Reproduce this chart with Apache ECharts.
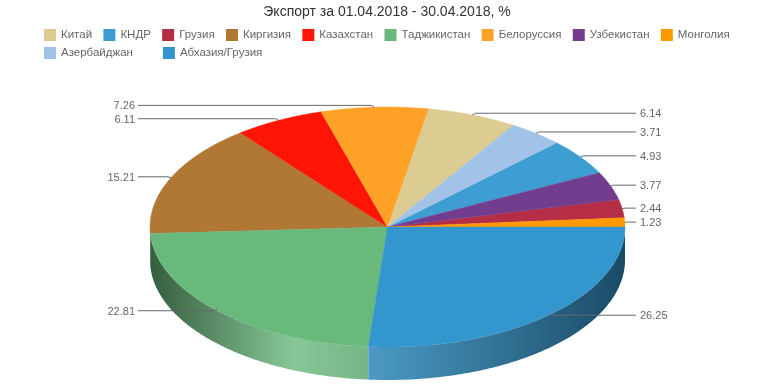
<!DOCTYPE html>
<html>
<head>
<meta charset="utf-8">
<style>
    html, body { margin: 0; padding: 0; background: #fff; }
    #chart { width: 774px; height: 387px; }
</style>
<script src="https://cdn.jsdelivr.net/npm/echarts@6/dist/echarts.min.js"></script>
</head>
<body>
<div id="chart"></div>
<script>
const categories = ['Китай', 'КНДР', 'Грузия', 'Киргизия', 'Казахстан', 'Таджикистан', 'Белоруссия', 'Узбекистан', 'Монголия', 'Азербайджан', 'Абхазия/Грузия']
const values = [6.14, 4.93, 2.44, 15.21, 6.11, 22.81, 7.26, 3.77, 1.23, 3.71, 26.25]
const colors = ['#dccc92', '#3f9ed1', '#b52e45', '#b07735', '#ff1506', '#69b97d', '#ffa227', '#723d8e', '#ff9900', '#a1c3e8', '#3396cc']
// clockwise from 3 o'clock
const sliceOrder = ['Абхазия/Грузия', 'Таджикистан', 'Киргизия', 'Казахстан', 'Белоруссия', 'Китай', 'Азербайджан', 'КНДР', 'Узбекистан', 'Грузия', 'Монголия']

const legendRow1 = categories.slice(0, 9)
const legendRow2 = categories.slice(9)

const pie = { cx: 387.5, cy: 227, rx: 237.5, ry: 120, depth: 33 }
const labelX = { left: 138, right: 636 }

const rad = (deg) => deg * Math.PI / 180
const pointAt = (deg, dy = 0) => [
    pie.cx + pie.rx * Math.cos(rad(deg)),
    pie.cy + pie.ry * Math.sin(rad(deg)) + dy
]
const arcPoints = (from, to, dy = 0) => {
    const pts = []
    const steps = Math.max(2, Math.ceil((to - from) * 2))
    for (let i = 0; i <= steps; i++) pts.push(pointAt(from + (to - from) * i / steps, dy))
    return pts
}
const mix = (hex, target, k) => {
    const n = parseInt(hex.slice(1), 16)
    const c = [n >> 16, (n >> 8) & 255, n & 255]
    return 'rgb(' + c.map((v, i) => Math.round(v + (target[i] - v) * k)).join(',') + ')'
}
const wallGradient = (hex) => ({
    type: 'linear',
    global: true,
    x: pie.cx - pie.rx,
    y: 0,
    x2: pie.cx + pie.rx,
    y2: 0,
    colorStops: [
        { offset: 0, color: mix(hex, [0, 0, 0], 0.5) },
        { offset: 0.30, color: mix(hex, [255, 255, 255], 0.2) },
        { offset: 0.46, color: mix(hex, [170, 170, 170], 0.2) },
        { offset: 1, color: mix(hex, [0, 0, 0], 0.5) }
    ]
})

const total = values.reduce((a, b) => a + b, 0)
const angles = {}
let acc = 0
sliceOrder.forEach((name) => {
    const v = values[categories.indexOf(name)]
    angles[name] = [acc / total * 360, (acc + v) / total * 360]
    acc += v
})

const renderSlice = (params, api) => {
    const value = api.value(0)
    const start = api.value(1)
    const end = api.value(2)
    const color = api.visual('color')
    const children = []

    // side wall, only the front half shows
    const wallEnd = Math.min(end, 180)
    if (start < 180) {
        children.push({
            type: 'polygon',
            z2: 1,
            shape: { points: arcPoints(start, wallEnd).concat(arcPoints(start, wallEnd, pie.depth).reverse()) },
            style: { fill: wallGradient(color) }
        })
    }
    children.push({
        type: 'polygon',
        z2: 2,
        shape: { points: [[pie.cx, pie.cy]].concat(arcPoints(start, end)) },
        style: { fill: color, stroke: color, lineWidth: 0.4 }
    })

    // leader line and value
    const mid = (start + end) / 2
    const edge = pointAt(mid)
    const sin = Math.sin(rad(mid))
    const isRight = Math.cos(rad(mid)) > 0
    const anchor = sin > 0 ? [edge[0], edge[1] - 1.5] : edge
    const lineY = sin > 0 ? edge[1] : edge[1] - 1.6 * Math.abs(sin) - 0.2
    const elbow = [anchor[0] + (isRight ? 3 : -3), lineY]
    const endX = isRight ? labelX.right : labelX.left
    children.push({
        type: 'polyline',
        z2: 3,
        shape: { points: [anchor, elbow, [endX, lineY]] },
        style: { fill: null, stroke: '#666', lineWidth: 1 }
    })
    children.push({
        type: 'text',
        z2: 3,
        style: {
            x: endX + (isRight ? 4 : -3),
            y: lineY + 1,
            text: value.toFixed(2),
            fill: '#666',
            font: '11px "Liberation Sans"',
            align: isRight ? 'left' : 'right',
            verticalAlign: 'middle'
        }
    })
    return { type: 'group', children }
}

const legendBase = {
    icon: 'rect',
    itemWidth: 12,
    itemHeight: 12,
    orient: 'horizontal',
    padding: 0,
    selectedMode: false,
    textStyle: { color: '#666', fontSize: 11.5, fontFamily: 'Liberation Sans' }
}

const myChart = echarts.init(document.getElementById('chart'), null, { renderer: 'canvas' })
myChart.setOption({
    animation: false,
    title: {
        text: 'Экспорт за 01.04.2018 - 30.04.2018, %',
        left: 'center',
        top: 5,
        padding: 0,
        textStyle: { color: '#333', fontSize: 14, fontWeight: 'normal', fontFamily: 'Liberation Sans' }
    },
    legend: [
        { ...legendBase, data: legendRow1, left: 44, top: 29, itemGap: 11.3 },
        { ...legendBase, data: legendRow2, left: 44, top: 47, itemGap: 30 }
    ],
    series: categories.map((name, i) => ({
        type: 'custom',
        name,
        coordinateSystem: 'none',
        itemStyle: { color: colors[i] },
        renderItem: renderSlice,
        silent: true,
        data: [[values[i], angles[name][0], angles[name][1]]]
    }))
})
</script>
</body>
</html>
